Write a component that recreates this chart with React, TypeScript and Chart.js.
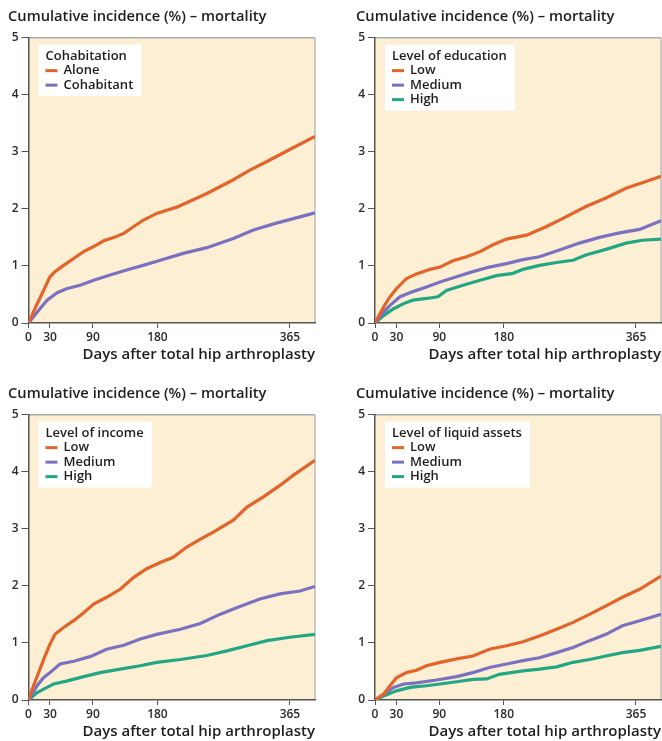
import React, { useEffect, useRef } from "react";
import { Chart, registerables } from "chart.js";

Chart.register(...registerables);

// ---------- text ----------
const CHART_TITLE = "Cumulative incidence (%) – mortality";
const X_TITLE = "Days after total hip arthroplasty";
const X_TICKS = [0, 30, 90, 180, 365];
const X_MAX = 400;
const Y_MAX = 5;

// ---------- colours ----------
const ORANGE = "#E2642B";
const PURPLE = "#7A71C0";
const GREEN = "#22A684";
const PANEL_BG = "#FDEFD4";
const FONT = "'Open Sans', 'Liberation Sans', Arial, sans-serif";
const WEIGHT = "600";

// ---------- Panel 1: Cohabitation ----------
const cohabAloneDays = [0, 10, 21, 30, 37, 49, 63, 77, 91, 105, 119, 133, 147, 160, 179, 207, 230, 249, 286, 309, 333, 360, 400];
const cohabAloneVals = [0, 0.28, 0.57, 0.81, 0.9, 1.01, 1.13, 1.25, 1.34, 1.44, 1.5, 1.57, 1.69, 1.8, 1.92, 2.03, 2.16, 2.27, 2.51, 2.68, 2.83, 3.01, 3.27];
const cohabWithDays = [0, 16, 26, 40, 53, 72, 91, 114, 137, 160, 184, 216, 249, 286, 314, 346, 379, 400];
const cohabWithVals = [0, 0.25, 0.4, 0.53, 0.6, 0.66, 0.75, 0.84, 0.93, 1.01, 1.1, 1.22, 1.32, 1.48, 1.63, 1.75, 1.86, 1.93];

// ---------- Panel 2: Level of education ----------
const eduLowDays = [0, 12, 21, 30, 44, 58, 77, 91, 109, 128, 147, 165, 184, 212, 240, 267, 295, 323, 351, 379, 400];
const eduLowVals = [0, 0.28, 0.46, 0.6, 0.78, 0.86, 0.94, 0.98, 1.09, 1.16, 1.25, 1.37, 1.47, 1.54, 1.69, 1.86, 2.04, 2.19, 2.36, 2.48, 2.57];
const eduMedDays = [0, 12, 21, 35, 53, 72, 91, 114, 137, 160, 184, 207, 230, 258, 286, 314, 342, 370, 400];
const eduMedVals = [0, 0.19, 0.31, 0.46, 0.55, 0.63, 0.72, 0.81, 0.9, 0.98, 1.04, 1.11, 1.16, 1.28, 1.4, 1.5, 1.58, 1.64, 1.79];
const eduHighDays = [0, 12, 26, 40, 53, 72, 88, 100, 123, 147, 170, 193, 207, 230, 254, 277, 295, 323, 351, 374, 400];
const eduHighVals = [0, 0.13, 0.25, 0.34, 0.4, 0.43, 0.46, 0.57, 0.66, 0.75, 0.83, 0.87, 0.94, 1.01, 1.06, 1.1, 1.19, 1.29, 1.4, 1.45, 1.47];

// ---------- Panel 3: Level of income ----------
const incLowDays = [0, 7, 16, 23, 30, 37, 49, 63, 77, 91, 109, 128, 147, 165, 184, 202, 221, 240, 258, 286, 305, 328, 351, 370, 400];
const incLowVals = [0, 0.25, 0.54, 0.77, 0.98, 1.15, 1.27, 1.39, 1.53, 1.68, 1.8, 1.94, 2.15, 2.3, 2.41, 2.5, 2.68, 2.82, 2.94, 3.15, 3.38, 3.56, 3.76, 3.94, 4.2];
const incMedDays = [0, 12, 21, 30, 44, 63, 86, 109, 133, 156, 179, 212, 240, 267, 295, 323, 351, 379, 400];
const incMedVals = [0, 0.25, 0.39, 0.48, 0.63, 0.68, 0.76, 0.89, 0.96, 1.07, 1.15, 1.24, 1.34, 1.5, 1.64, 1.77, 1.86, 1.91, 1.99];
const incHighDays = [0, 12, 26, 35, 53, 77, 100, 128, 156, 179, 212, 249, 277, 305, 333, 365, 400];
const incHighVals = [0, 0.13, 0.22, 0.28, 0.33, 0.41, 0.48, 0.54, 0.6, 0.66, 0.71, 0.78, 0.86, 0.95, 1.04, 1.1, 1.15];

// ---------- Panel 4: Level of liquid assets ----------
const assLowDays = [0, 12, 21, 30, 44, 58, 72, 91, 114, 137, 160, 184, 207, 230, 254, 277, 300, 323, 346, 370, 400];
const assLowVals = [0, 0.1, 0.25, 0.39, 0.48, 0.52, 0.6, 0.66, 0.72, 0.77, 0.89, 0.95, 1.02, 1.12, 1.24, 1.36, 1.5, 1.65, 1.8, 1.94, 2.17];
const assMedDays = [0, 12, 26, 40, 58, 86, 114, 137, 160, 184, 207, 230, 254, 277, 300, 323, 346, 370, 400];
const assMedVals = [0, 0.1, 0.22, 0.28, 0.3, 0.35, 0.41, 0.48, 0.57, 0.63, 0.69, 0.74, 0.83, 0.92, 1.04, 1.15, 1.3, 1.39, 1.5];
const assHighDays = [0, 12, 30, 49, 72, 91, 114, 137, 156, 174, 207, 230, 254, 277, 300, 323, 346, 370, 400];
const assHighVals = [0, 0.07, 0.16, 0.22, 0.25, 0.28, 0.32, 0.36, 0.37, 0.45, 0.51, 0.54, 0.58, 0.66, 0.71, 0.77, 0.83, 0.87, 0.94];

type Series = { label: string; color: string; days: number[]; vals: number[] };
type PanelDef = {
  legendTitle: string;
  series: Series[];
  left: number;
  top: number;
  width: number;
  height: number;
  yWidth: number;
  padRight: number;
};

const PANELS: PanelDef[] = [
  {
    legendTitle: "Cohabitation",
    series: [
      { label: "Alone", color: ORANGE, days: cohabAloneDays, vals: cohabAloneVals },
      { label: "Cohabitant", color: PURPLE, days: cohabWithDays, vals: cohabWithVals },
    ],
    left: 0, top: 0, width: 330, height: 364, yWidth: 20.5, padRight: 15,
  },
  {
    legendTitle: "Level of education",
    series: [
      { label: "Low", color: ORANGE, days: eduLowDays, vals: eduLowVals },
      { label: "Medium", color: PURPLE, days: eduMedDays, vals: eduMedVals },
      { label: "High", color: GREEN, days: eduHighDays, vals: eduHighVals },
    ],
    left: 348, top: 0, width: 314, height: 364, yWidth: 19, padRight: 1,
  },
  {
    legendTitle: "Level of income",
    series: [
      { label: "Low", color: ORANGE, days: incLowDays, vals: incLowVals },
      { label: "Medium", color: PURPLE, days: incMedDays, vals: incMedVals },
      { label: "High", color: GREEN, days: incHighDays, vals: incHighVals },
    ],
    left: 0, top: 377, width: 330, height: 364, yWidth: 20.5, padRight: 15,
  },
  {
    legendTitle: "Level of liquid assets",
    series: [
      { label: "Low", color: ORANGE, days: assLowDays, vals: assLowVals },
      { label: "Medium", color: PURPLE, days: assMedDays, vals: assMedVals },
      { label: "High", color: GREEN, days: assHighDays, vals: assHighVals },
    ],
    left: 348, top: 377, width: 314, height: 364, yWidth: 19, padRight: 1,
  },
];

const panelPlugin = {
  id: "panelDecor",
  beforeDraw(chart: any) {
    const { ctx, chartArea } = chart;
    const { left, top, right, bottom } = chartArea;
    ctx.save();
    ctx.fillStyle = PANEL_BG;
    ctx.fillRect(left, top, right - left, bottom - top);
    ctx.lineWidth = 1.5;
    ctx.strokeStyle = "#A9A9A9";
    ctx.beginPath();
    ctx.moveTo(left, top);
    ctx.lineTo(right, top);
    ctx.stroke();
    ctx.strokeStyle = "#BDBDBD";
    ctx.beginPath();
    ctx.moveTo(right, top);
    ctx.lineTo(right, bottom);
    ctx.stroke();
    ctx.restore();
  },
  afterDraw(chart: any, _args: any, opts: any) {
    const { ctx, chartArea } = chart;
    const ds = chart.data.datasets;
    const x = chartArea.left + 10;
    const y = chartArea.top + 7;
    const rowH = 14.5;
    ctx.save();
    ctx.font = `${WEIGHT} 13px ${FONT}`;
    const titleW = ctx.measureText(opts.title).width;
    let itemW = 0;
    ds.forEach((d: any) => {
      itemW = Math.max(itemW, 18 + ctx.measureText(d.label).width);
    });
    const w = 7 + Math.max(titleW, itemW) + 8;
    const h = 11.5 + ds.length * rowH + 11;
    ctx.fillStyle = "#FFFFFF";
    ctx.fillRect(x, y, w, h);
    ctx.fillStyle = "#1E1E1E";
    ctx.textBaseline = "middle";
    ctx.textAlign = "left";
    ctx.fillText(opts.title, x + 7, y + 11.5);
    ds.forEach((d: any, i: number) => {
      const cy = y + 11.5 + (i + 1) * rowH;
      ctx.fillStyle = d.borderColor;
      ctx.fillRect(x + 7, cy - 1.5, 12, 3);
      ctx.fillStyle = "#1E1E1E";
      ctx.fillText(d.label, x + 25, cy);
    });
    ctx.restore();
  },
};

function Panel({ def }: { def: PanelDef }) {
  const ref = useRef<HTMLCanvasElement | null>(null);
  useEffect(() => {
    if (!ref.current) return;
    const chart = new Chart(ref.current, {
      type: "line",
      data: {
        datasets: def.series.map((s) => ({
          label: s.label,
          data: s.days.map((d, i) => ({ x: d, y: s.vals[i] })),
          borderColor: s.color,
          backgroundColor: s.color,
          borderWidth: 3.2,
          pointRadius: 0,
          tension: 0,
          fill: false,
        })),
      },
      options: {
        animation: false,
        responsive: false,
        layout: { padding: { left: 8, right: def.padRight, top: 0, bottom: 0 } },
        plugins: {
          legend: { display: false },
          tooltip: { enabled: false },
          title: {
            display: true,
            text: CHART_TITLE,
            align: "start",
            color: "#1E1E1E",
            font: { family: FONT, size: 14.7, weight: WEIGHT as any },
            padding: { top: 8, bottom: 12 },
          },
          panelDecor: { title: def.legendTitle },
        } as any,
        scales: {
          x: {
            type: "linear",
            min: 0,
            max: X_MAX,
            afterBuildTicks: (scale: any) => {
              scale.ticks = X_TICKS.map((v) => ({ value: v }));
            },
            afterFit: (scale: any) => {
              scale.height = 41;
            },
            grid: { drawOnChartArea: false, drawTicks: true, tickLength: 5, color: "#555555", lineWidth: 1 },
            border: { color: "#555555", width: 1.5 },
            ticks: {
              color: "#2A2A2A",
              padding: 2,
              maxRotation: 0,
              autoSkip: false,
              font: { family: FONT, size: 12, weight: WEIGHT as any },
            },
            title: {
              display: true,
              text: X_TITLE,
              align: "end",
              color: "#1E1E1E",
              font: { family: FONT, size: 15, weight: WEIGHT as any },
              padding: { top: 0, bottom: 0 },
            },
          },
          y: {
            type: "linear",
            min: 0,
            max: Y_MAX,
            afterFit: (scale: any) => {
              scale.width = def.yWidth;
            },
            grid: { drawOnChartArea: false, drawTicks: true, tickLength: 7, color: "#555555", lineWidth: 1 },
            border: { color: "#555555", width: 1.5 },
            ticks: {
              stepSize: 1,
              color: "#2A2A2A",
              padding: 3,
              font: { family: FONT, size: 12, weight: WEIGHT as any },
            },
          },
        },
      },
      plugins: [panelPlugin],
    });
    return () => chart.destroy();
  }, [def]);
  return (
    <canvas
      ref={ref}
      width={def.width}
      height={def.height}
      style={{ position: "absolute", left: def.left, top: def.top, width: def.width, height: def.height }}
    />
  );
}

export default function App() {
  return (
    <div style={{ position: "absolute", left: 0, top: 0, width: 662, height: 741, background: "#FFFFFF" }}>
      {PANELS.map((p, i) => (
        <Panel key={i} def={p} />
      ))}
    </div>
  );
}
